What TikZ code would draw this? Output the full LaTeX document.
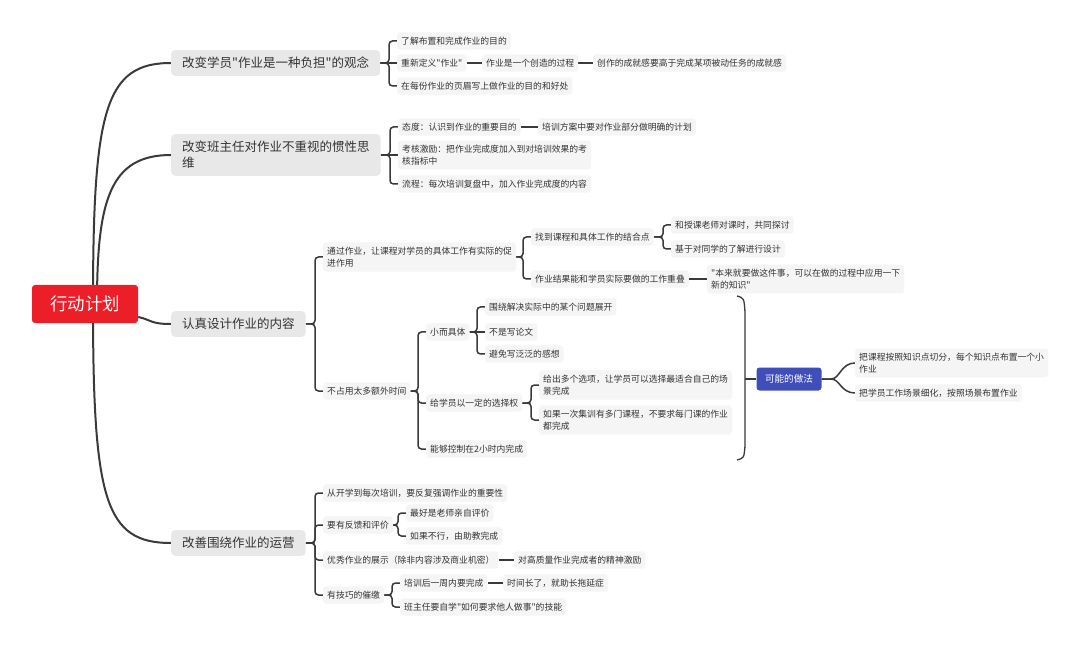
\documentclass[tikz,border=0pt]{standalone}
\usepackage{fontspec}
\setmainfont{Noto Sans CJK SC}[Ligatures=TeXOff]
\usetikzlibrary{backgrounds}
\definecolor{rootred}{RGB}{236,30,40}
\definecolor{topicgray}{RGB}{232,232,232}
\definecolor{leafgray}{RGB}{245,245,245}
\definecolor{txt}{RGB}{51,51,51}
\definecolor{linec}{RGB}{58,58,58}
\definecolor{sumblue}{RGB}{63,78,184}
\newcommand\mmbrk[2]{\draw[conn] (#1.east) -- ([xshift=-8pt]#2.west |- #1.east) |- (#2.west);}
\begin{document}
\begin{tikzpicture}[x=1pt,y=-1pt,
  rootbox/.style={fill=rootred, rounded corners=3pt, minimum width=106pt, minimum height=38pt, text=white, font=\fontsize{17.5}{20}\selectfont},
  topic/.style={fill=topicgray, rounded corners=4pt, inner xsep=11pt, inner ysep=7pt, text=txt, align=left, anchor=west, font=\fontsize{12.5}{16}\selectfont},
  leaf/.style={fill=leafgray, rounded corners=3pt, inner xsep=4pt, inner ysep=4.5pt, text=txt, align=left, anchor=west, font=\fontsize{8.8}{11.8}\selectfont},
  sumbox/.style={fill=sumblue, rounded corners=3pt, minimum width=65pt, minimum height=23pt, text=white, font=\fontsize{9.6}{12}\selectfont},
  conn/.style={draw=linec, line width=1.5pt, rounded corners=3.5pt},
  mainconn/.style={draw=linec, line width=2pt},
  sumline/.style={draw=linec, line width=1.3pt}]
\useasboundingbox (0,0) rectangle (1080,647);

% root and topics
\node[rootbox] (root) at (85,304) {行动计划};
\node[topic] (t1) at (171,63) {改变学员"作业是一种负担"的观念};
\node[topic] (t2) at (171,155) {改变班主任对作业不重视的惯性思\\维};
\node[topic] (t3) at (171,324) {认真设计作业的内容};
\node[topic] (t4) at (171,543) {改善围绕作业的运营};

% topic 1
\node[leaf] (a1) at (397,41) {了解布置和完成作业的目的};
\node[leaf] (a2) at (397,63) {重新定义"作业"};
\node[leaf] (a21) at (482,63) {作业是一个创造的过程};
\node[leaf] (a211) at (593,63) {创作的成就感要高于完成某项被动任务的成就感};
\node[leaf] (a3) at (397,86) {在每份作业的页眉写上做作业的目的和好处};

% topic 2
\node[leaf] (b1) at (398,127) {态度：认识到作业的重要目的};
\node[leaf] (b11) at (538,127) {培训方案中要对作业部分做明确的计划};
\node[leaf] (b2) at (398,155) {考核激励：把作业完成度加入到对培训效果的考\\核指标中};
\node[leaf] (b3) at (398,184) {流程：每次培训复盘中，加入作业完成度的内容};

% topic 3
\node[leaf] (c1) at (323,257) {通过作业，让课程对学员的具体工作有实际的促\\进作用};
\node[leaf] (c11) at (531,237) {找到课程和具体工作的结合点};
\node[leaf] (c111) at (671,225) {和授课老师对课时，共同探讨};
\node[leaf] (c112) at (671,249) {基于对同学的了解进行设计};
\node[leaf] (c12) at (531,279) {作业结果能和学员实际要做的工作重叠};
\node[leaf] (c121) at (707,279) {"本来就要做这件事，可以在做的过程中应用一下\\新的知识"};
\node[leaf] (c2) at (323,391) {不占用太多额外时间};
\node[leaf] (c21) at (426,332) {小而具体};
\node[leaf] (c211) at (485,307) {围绕解决实际中的某个问题展开};
\node[leaf] (c212) at (485,332) {不是写论文};
\node[leaf] (c213) at (485,354) {避免写泛泛的感想};
\node[leaf] (c22) at (426,403) {给学员以一定的选择权};
\node[leaf] (c221) at (539,385) {给出多个选项，让学员可以选择最适合自己的场\\景完成};
\node[leaf] (c222) at (539,420) {如果一次集训有多门课程，不要求每门课的作业\\都完成};
\node[leaf] (c23) at (426,449) {能够控制在2小时内完成};
\node[sumbox] (s) at (789,379) {可能的做法};
\node[leaf] (s1) at (855,363) {把课程按照知识点切分，每个知识点布置一个小\\作业};
\node[leaf] (s2) at (855,393) {把学员工作场景细化，按照场景布置作业};

% topic 4
\node[leaf] (d1) at (323,493) {从开学到每次培训，要反复强调作业的重要性};
\node[leaf] (d2) at (323,525) {要有反馈和评价};
\node[leaf] (d21) at (406,513) {最好是老师亲自评价};
\node[leaf] (d22) at (406,536) {如果不行，由助教完成};
\node[leaf] (d3) at (323,560) {优秀作业的展示（除非内容涉及商业机密）};
\node[leaf] (d31) at (514,560) {对高质量作业完成者的精神激励};
\node[leaf] (d4) at (323,595) {有技巧的催缴};
\node[leaf] (d41) at (400,583) {培训后一周内要完成};
\node[leaf] (d411) at (503,583) {时间长了，就助长拖延症};
\node[leaf] (d42) at (400,607) {班主任要自学"如何要求他人做事"的技能};

\coordinate (sumtop) at (737,296);
\coordinate (sumbot) at (737,460);
\coordinate (sumtip) at (745,379);

\begin{pgfonlayer}{background}
\fill[white] (0,0) rectangle (1080,647);
% main branches
\draw[mainconn] ([xshift=8pt]root.center) .. controls (93,110) and (105,63) .. (t1.west);
\draw[mainconn] ([xshift=12pt]root.center) .. controls (97,200) and (110,155) .. (t2.west);
\draw[mainconn] ([yshift=-13pt]root.east) .. controls (152,320) and (150,324) .. (t3.west);
\draw[mainconn] ([xshift=8pt]root.center) .. controls (93,500) and (105,543) .. (t4.west);
% topic 1
\mmbrk{t1}{a1}
\draw[conn] (t1.east) -- (a2.west);
\mmbrk{t1}{a3}
\draw[conn] (a2.east) -- (a21.west);
\draw[conn] (a21.east) -- (a211.west);
% topic 2
\mmbrk{t2}{b1}
\draw[conn] (t2.east) -- (b2.west);
\mmbrk{t2}{b3}
\draw[conn] (b1.east) -- (b11.west);
% topic 3
\mmbrk{t3}{c1}
\mmbrk{t3}{c2}
\mmbrk{c1}{c11}
\mmbrk{c1}{c12}
\mmbrk{c11}{c111}
\mmbrk{c11}{c112}
\draw[conn] (c12.east) -- (c121.west);
\mmbrk{c2}{c21}
\mmbrk{c2}{c22}
\mmbrk{c2}{c23}
\mmbrk{c21}{c211}
\draw[conn] (c21.east) -- (c212.west);
\mmbrk{c21}{c213}
\mmbrk{c22}{c221}
\mmbrk{c22}{c222}
% summary
\draw[sumline] (sumtop) .. controls (744,298) .. (745,312) -- (745,446) .. controls (744,458) .. (sumbot);
\draw[sumline] (sumtip) -- (s.west);
\draw[conn] (s.east) -- ++(6,0) .. controls +(12,0) and +(-14,0) .. (s1.west);
\draw[conn] (s.east) -- ++(6,0) .. controls +(12,0) and +(-14,0) .. (s2.west);
% topic 4
\mmbrk{t4}{d1}
\mmbrk{t4}{d2}
\mmbrk{t4}{d3}
\mmbrk{t4}{d4}
\mmbrk{d2}{d21}
\mmbrk{d2}{d22}
\draw[conn] (d3.east) -- (d31.west);
\mmbrk{d4}{d41}
\mmbrk{d4}{d42}
\draw[conn] (d41.east) -- (d411.west);
\end{pgfonlayer}
\end{tikzpicture}
\end{document}
